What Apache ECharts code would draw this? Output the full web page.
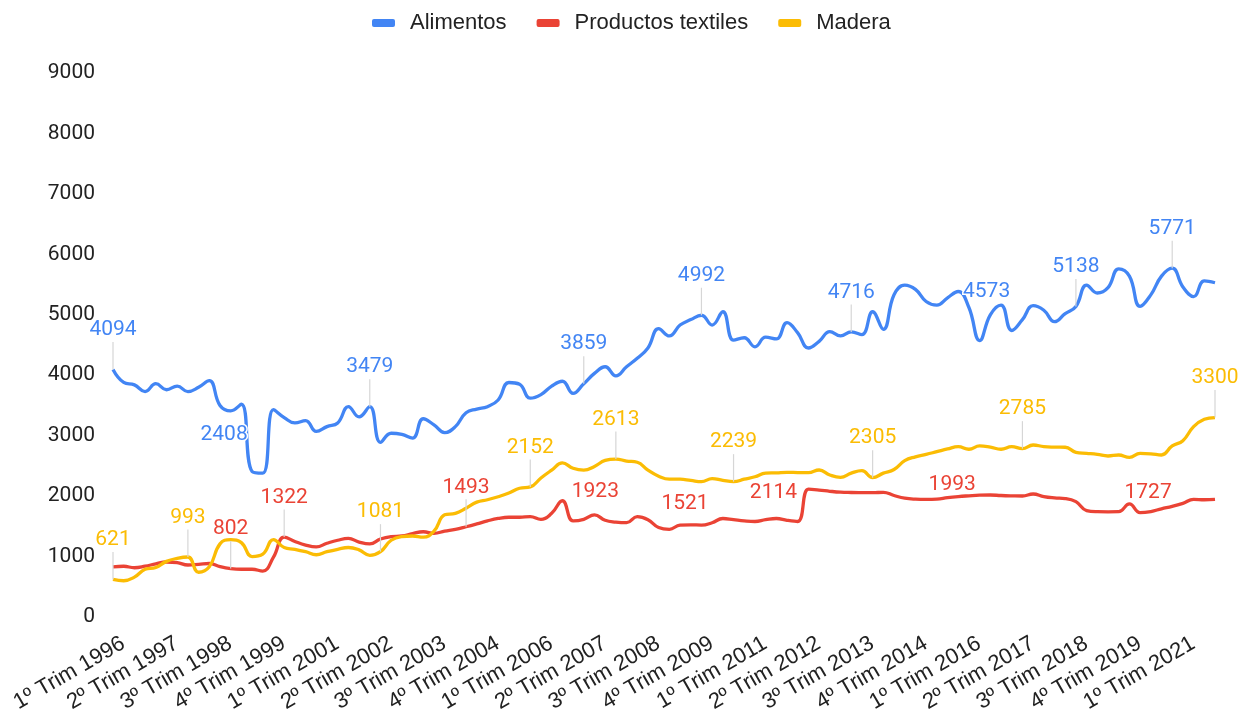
<!DOCTYPE html>
<html>
<head>
<meta charset="utf-8">
<title>Alimentos, Productos textiles, Madera</title>
<script src="https://cdn.jsdelivr.net/npm/echarts@6/dist/echarts.min.js"></script>
<style>
html, body { margin: 0; padding: 0; background: #fff; }
#chart { width: 1250px; height: 716px; }
</style>
</head>
<body>
<div id="chart"></div>
<script>
// trimestres 1996-2021
var quarters = [];
for (var y = 1996; y <= 2021; y++) {
    for (var q = 1; q <= 4; q++) quarters.push(q + 'º Trim ' + y);
}
var yTicks = [0, 1000, 2000, 3000, 4000, 5000, 6000, 7000, 8000, 9000];

var alimentos = [
    4094, 3880, 3840, 3730, 3860, 3760, 3820, 3730, 3800, 3910,
    3500, 3410, 3520, 2408, 2380, 3430, 3300, 3210, 3250, 3070,
    3150, 3210, 3480, 3310, 3479, 2890, 3040, 3020, 2960, 3280,
    3180, 3050, 3150, 3380, 3440, 3480, 3590, 3880, 3850, 3620,
    3680, 3820, 3900, 3700, 3859, 4030, 4140, 3990, 4140, 4280,
    4450, 4770, 4650, 4830, 4920, 4992, 4830, 5050, 4580, 4620,
    4470, 4630, 4600, 4870, 4700, 4450, 4560, 4720, 4650, 4716,
    4670, 5050, 4760, 5330, 5490, 5420, 5220, 5160, 5280, 5385,
    5120, 4573, 5000, 5160, 4740, 4920, 5150, 5075, 4886, 5020,
    5138, 5490, 5360, 5450, 5760, 5640, 5140, 5330, 5640, 5771,
    5460, 5300, 5560, 5530
];
var textiles = [
    830, 840, 815, 840, 880, 910, 900, 860, 870, 885,
    835, 802, 790, 790, 760, 990, 1322, 1250, 1190, 1160,
    1220, 1270, 1300, 1240, 1210, 1290, 1330, 1340, 1380, 1410,
    1385, 1420, 1450, 1493, 1540, 1590, 1630, 1650, 1650, 1660,
    1615, 1715, 1923, 1590, 1616, 1690, 1600, 1570, 1560, 1660,
    1610, 1480, 1450, 1521, 1525, 1520, 1560, 1630, 1610, 1590,
    1580, 1610, 1630, 1600, 1580, 2114, 2100, 2080, 2065, 2060,
    2058, 2057, 2063, 2010, 1965, 1950, 1947, 1950, 1975, 1993,
    2005, 2015, 2018, 2010, 2005, 2002, 2035, 1991, 1970, 1960,
    1908, 1760, 1742, 1740, 1742, 1870, 1727, 1745, 1790, 1830,
    1880, 1947, 1940, 1947
];
var madera = [
    621, 600, 660, 790, 820, 920, 970, 993, 740, 830,
    1210, 1280, 1230, 1000, 1040, 1280, 1150, 1120, 1080, 1030,
    1080, 1120, 1150, 1110, 1020, 1081, 1270, 1330, 1340, 1320,
    1420, 1690, 1715, 1800, 1900, 1940, 1990, 2050, 2130, 2152,
    2300, 2430, 2550, 2460, 2430, 2490, 2590, 2613, 2580, 2560,
    2430, 2330, 2280, 2280, 2260, 2240, 2290, 2260, 2239, 2280,
    2320, 2380, 2385, 2394, 2390, 2388, 2432, 2350, 2311, 2380,
    2421, 2305, 2380, 2440, 2586, 2650, 2690, 2735, 2780, 2818,
    2775, 2830, 2810, 2775, 2818, 2785, 2846, 2818, 2810, 2808,
    2725, 2708, 2690, 2664, 2680, 2642, 2708, 2700, 2680, 2830,
    2917, 3149, 3271, 3300
];

// puntos con etiqueta de valor
var alimentosLabeled = [0, 13, 24, 44, 55, 69, 81, 90, 99];
var textilesLabeled = [11, 16, 33, 42, 53, 65, 79, 96];
var maderaLabeled = [0, 7, 25, 39, 47, 58, 71, 85, 103];

// etiquetas desplazadas (sin guia)
var alimentosShift = { 13: [-28, -21], 81: [7, -33] };
var textilesShift = { 42: [33, 6], 53: [5, -6], 65: [-35, 19], 79: [-6, 4], 96: [8, -4] };
var maderaShift = {};

var FONT = 'Roboto, "Liberation Sans", Arial, sans-serif';
var AXIS_FONT = '"Liberation Sans", Arial, sans-serif';

function makeSeries(name, values, labeled, shift, color) {
    return {
        name: name,
        type: 'line',
        smooth: 0.45,
        symbol: 'circle',
        symbolSize: 0.01,
        showSymbol: true,
        showAllSymbol: true,
        lineStyle: { width: 3.3, color: color },
        itemStyle: { color: color },
        emphasis: { disabled: true },
        label: {
            show: false,
            position: 'top',
            distance: 2,
            color: color,
            fontSize: 21,
            fontFamily: FONT,
            textBorderColor: '#fff',
            textBorderWidth: 3,
            padding: [0, 0, 3, 0]
        },
        labelLine: { show: true, smooth: false, lineStyle: { color: '#d6d6d6', width: 1.2 } },
        labelLayout: function (p) {
            var s = shift[p.dataIndex];
            return s ? { dx: s[0], dy: s[1] } : { dy: -24 };
        },
        data: values.map(function (v, i) {
            if (labeled.indexOf(i) < 0) return v;
            var item = { value: v, label: { show: true } };
            if (shift[i]) item.labelLine = { show: false };
            return item;
        })
    };
}

var chart = echarts.init(document.getElementById('chart'));
var option = {
    animation: false,
    backgroundColor: '#fff',
    legend: {
        top: 7,
        left: 367,
        itemWidth: 23,
        itemHeight: 8,
        itemGap: 30,
        icon: 'roundRect',
        textStyle: { fontSize: 22, color: '#222', fontFamily: AXIS_FONT, padding: [0, 0, 0, 10] },
        data: ['Alimentos', 'Productos textiles', 'Madera']
    },
    grid: { left: 113, right: 35, top: 73, bottom: 99, outerBoundsMode: 'none' },
    xAxis: {
        type: 'category',
        boundaryGap: false,
        data: quarters,
        axisLine: { show: false },
        axisTick: { show: false },
        axisLabel: {
            interval: 4,
            rotate: 30,
            margin: 31,
            align: 'right',
            padding: [0, -12, 0, 0],
            fontSize: 22,
            color: '#222',
            fontFamily: AXIS_FONT
        }
    },
    yAxis: {
        type: 'value',
        min: yTicks[0],
        max: yTicks[yTicks.length - 1],
        interval: 1000,
        axisLine: { show: false },
        axisTick: { show: false },
        splitLine: { show: false },
        axisLabel: {
            margin: 18,
            fontSize: 21,
            color: '#222',
            fontFamily: FONT,
            formatter: function (v) { return String(v); }
        }
    },
    series: [
        makeSeries('Alimentos', alimentos, alimentosLabeled, alimentosShift, '#4285F4'),
        makeSeries('Productos textiles', textiles, textilesLabeled, textilesShift, '#EA4335'),
        makeSeries('Madera', madera, maderaLabeled, maderaShift, '#FBBC04')
    ]
};
chart.setOption(option);
window.onresize = function () {
    chart.resize();
};
</script>
</body>
</html>
